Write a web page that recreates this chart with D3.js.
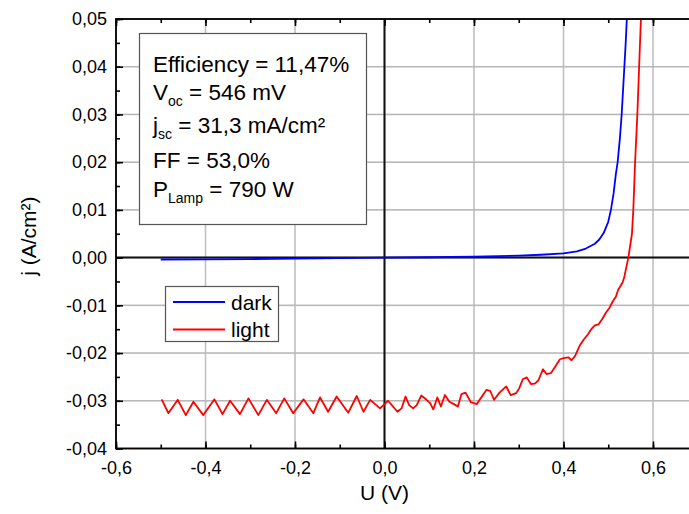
<!DOCTYPE html>
<html>
<head>
<meta charset="utf-8">
<script src="https://cdnjs.cloudflare.com/ajax/libs/d3/7.8.5/d3.min.js"></script>
<style>
body { margin: 0; background: white; }
svg { display: block; font-family: "Liberation Sans", Arial, sans-serif; }
</style>
</head>
<body>
<svg></svg>
<script>
/**********************
* data *
**********************/

/* dark curve (blue) */
var dark_u = [-0.5, -0.4, -0.3, -0.2, -0.1, 0, 0.1, 0.2, 0.3, 0.35, 0.4, 0.43, 0.45, 0.47, 0.48, 0.49, 0.5, 0.506, 0.512, 0.517, 0.521, 0.526, 0.53, 0.533, 0.536, 0.539, 0.5415, 0.544]
var dark_j = [-0.0004, -0.00035, -0.0003, -0.0002, -0.0001, 0, 0.00008, 0.0002, 0.0004, 0.0006, 0.0009, 0.0013, 0.0019, 0.0029, 0.0038, 0.0052, 0.0075, 0.01, 0.0135, 0.0175, 0.02, 0.025, 0.03, 0.035, 0.04, 0.045, 0.05, 0.055]

/* light curve (red) */
var light_u = [-0.498, -0.483, -0.462, -0.444, -0.427, -0.405, -0.38, -0.362, -0.345, -0.323, -0.304, -0.282, -0.263, -0.242, -0.224, -0.204, -0.181, -0.159, -0.144, -0.126, -0.107, -0.081, -0.062, -0.047, -0.032, -0.01,
    0.008, 0.029, 0.038, 0.047, 0.055, 0.064, 0.072, 0.082, 0.094, 0.102, 0.109, 0.118, 0.126, 0.135, 0.145, 0.155, 0.164, 0.172, 0.181, 0.193, 0.206, 0.228, 0.236, 0.245, 0.257, 0.272, 0.282, 0.294, 0.301, 0.309, 0.318, 0.327, 0.336, 0.344, 0.354, 0.362, 0.372, 0.381, 0.392, 0.403, 0.411, 0.418, 0.426, 0.437,
    0.445, 0.455, 0.462, 0.47, 0.478, 0.487, 0.495, 0.503, 0.51, 0.517, 0.522, 0.527, 0.532, 0.536, 0.54, 0.545, 0.549, 0.553, 0.556, 0.56, 0.565, 0.569, 0.573, 0.575]
var light_j = [-0.0297, -0.0326, -0.0298, -0.033, -0.0302, -0.033, -0.0297, -0.0328, -0.03, -0.0328, -0.0295, -0.033, -0.0298, -0.0326, -0.0295, -0.0326, -0.0297, -0.0326, -0.0293, -0.0323, -0.0291, -0.0325, -0.029, -0.0323, -0.0298, -0.0316,
    -0.03, -0.0323, -0.0316, -0.0291, -0.0309, -0.0316, -0.0309, -0.0289, -0.0298, -0.0305, -0.0318, -0.0293, -0.0312, -0.0288, -0.0302, -0.0307, -0.0312, -0.0286, -0.0283, -0.0303, -0.0307, -0.0277, -0.0279, -0.0298, -0.0283, -0.027, -0.0288, -0.0284, -0.0274, -0.0255, -0.0251, -0.0265, -0.0264, -0.0257, -0.0234, -0.0244, -0.0242, -0.0229, -0.0213, -0.021, -0.0209, -0.0215, -0.0206, -0.0183,
    -0.0172, -0.016, -0.015, -0.0142, -0.014, -0.0128, -0.0115, -0.0105, -0.0092, -0.0082, -0.0068, -0.006, -0.0052, -0.004, -0.0022, 0, 0.0025, 0.005, 0.01, 0.02, 0.03, 0.04, 0.05, 0.056]

var series_names = ["dark", "light"]
var series_colors = ["#0000ff", "#ff0000"]

var x_ticks = [-0.6, -0.4, -0.2, 0, 0.2, 0.4, 0.6]
var y_ticks = [-0.04, -0.03, -0.02, -0.01, 0, 0.01, 0.02, 0.03, 0.04, 0.05]

var info_lines = [
    {main: "Efficiency = 11,47%", sub: "", rest: ""},
    {main: "V", sub: "oc", rest: " = 546 mV"},
    {main: "j", sub: "sc", rest: " = 31,3 mA/cm²"},
    {main: "FF = 53,0%", sub: "", rest: ""},
    {main: "P", sub: "Lamp", rest: " = 790 W"}
]

/**********************
* layout *
**********************/

var width = 689
var height = 514

var plot_left = 116
var plot_right = 697.75
var plot_top = 19
var plot_bottom = 448.5

var x = d3.scaleLinear().domain([-0.6, 0.7]).range([plot_left, plot_right])
var y = d3.scaleLinear().domain([-0.04, 0.05]).range([plot_bottom, plot_top])

var x_fmt = function(d) { return d3.format(".1f")(d).replace(".", ",").replace("−", "-") }
var y_fmt = function(d) { return d3.format(".2f")(d).replace(".", ",").replace("−", "-") }

var svg = d3.select("svg").attr("width", width).attr("height", height)

/* minor tick positions */
function minor(step, lo, hi) {
    var out = []
    for (var k = Math.round(lo / step); k * step <= hi + 1e-9; k++) out.push(+(k * step).toFixed(4))
    return out
}

/**********************
* display *
**********************/

/* grey grid lines at the major ticks (thin filled rects) */
function display_grid() {
    var grid = svg.append("g").attr("class", "grid")
    grid.selectAll("rect.vx")
        .data(x_ticks)
        .enter().append("rect")
        .attr("class", "vx")
        .attr("x", function(d) { return x(d) - 0.8 })
        .attr("width", 1.6)
        .attr("y", plot_top).attr("height", plot_bottom - plot_top)
        .attr("fill", "#c0c0c0")
    grid.selectAll("rect.hy")
        .data(y_ticks)
        .enter().append("rect")
        .attr("class", "hy")
        .attr("y", function(d) { return y(d) - 0.8 })
        .attr("height", 1.6)
        .attr("x", plot_left).attr("width", plot_right - plot_left)
        .attr("fill", "#b8b8b8")

    /* zero lines */
    grid.append("line")
        .attr("x1", x(0)).attr("x2", x(0))
        .attr("y1", plot_top).attr("y2", plot_bottom)
        .attr("stroke", "#111").attr("stroke-width", 2)
    grid.append("line")
        .attr("y1", y(0)).attr("y2", y(0))
        .attr("x1", plot_left).attr("x2", plot_right)
        .attr("stroke", "#111").attr("stroke-width", 2)
}

function display_axes() {
    var style = function(g) {
        g.select(".domain").remove()
        g.selectAll("line").attr("stroke", "#000").attr("stroke-width", 1.6)
    }
    var xminor = minor(0.1, -0.6, 0.7)
    var yminor = minor(0.005, -0.04, 0.05)

    /* bottom */
    svg.append("g").attr("transform", "translate(0," + plot_bottom + ")")
        .call(d3.axisBottom(x).tickValues(xminor).tickSize(-4).tickFormat(""))
        .call(style)
    svg.append("g").attr("transform", "translate(0," + plot_bottom + ")")
        .call(d3.axisBottom(x).tickValues(x_ticks).tickSize(-7).tickPadding(13).tickFormat(x_fmt))
        .call(style)
        .selectAll("text").attr("font-size", 18).attr("fill", "#000")
    /* top */
    svg.append("g").attr("transform", "translate(0," + plot_top + ")")
        .call(d3.axisTop(x).tickValues(xminor).tickSize(-4).tickFormat(""))
        .call(style)
    svg.append("g").attr("transform", "translate(0," + plot_top + ")")
        .call(d3.axisTop(x).tickValues(x_ticks).tickSize(-7).tickFormat(""))
        .call(style)
    /* left */
    svg.append("g").attr("transform", "translate(" + plot_left + ",0)")
        .call(d3.axisLeft(y).tickValues(yminor).tickSize(-4).tickFormat(""))
        .call(style)
    svg.append("g").attr("transform", "translate(" + plot_left + ",0)")
        .call(d3.axisLeft(y).tickValues(y_ticks).tickSize(-7).tickPadding(9).tickFormat(y_fmt))
        .call(style)
        .selectAll("text").attr("font-size", 18).attr("fill", "#000")
    /* right */
    svg.append("g").attr("transform", "translate(" + plot_right + ",0)")
        .call(d3.axisRight(y).tickValues(yminor).tickSize(-4).tickFormat(""))
        .call(style)
    svg.append("g").attr("transform", "translate(" + plot_right + ",0)")
        .call(d3.axisRight(y).tickValues(y_ticks).tickSize(-7).tickFormat(""))
        .call(style)

    /* frame */
    svg.append("rect")
        .attr("x", plot_left).attr("y", plot_top)
        .attr("width", plot_right - plot_left).attr("height", plot_bottom - plot_top)
        .attr("fill", "none").attr("stroke", "#000").attr("stroke-width", 1.8)

    /* titles */
    svg.append("text")
        .attr("x", x(0)).attr("y", 500)
        .attr("text-anchor", "middle").attr("font-size", 21)
        .text("U (V)")
    svg.append("text")
        .attr("transform", "translate(36," + y(0.0045) + ") rotate(-90)")
        .attr("text-anchor", "middle").attr("font-size", 21)
        .text("j (A/cm²)")
}

function display_curves() {
    svg.append("clipPath").attr("id", "clip")
        .append("rect")
        .attr("x", plot_left).attr("y", plot_top)
        .attr("width", plot_right - plot_left).attr("height", plot_bottom - plot_top)

    var line = d3.line()
        .x(function(d) { return x(d[0]) })
        .y(function(d) { return y(d[1]) })

    var curves = [d3.zip(dark_u, dark_j), d3.zip(light_u, light_j)]
    svg.append("g").attr("clip-path", "url(#clip)")
        .selectAll("path")
        .data(curves)
        .enter().append("path")
        .attr("d", line)
        .attr("fill", "none")
        .attr("stroke", function(d, i) { return series_colors[i] })
        .attr("stroke-width", 1.8)
        .attr("stroke-linejoin", "round")
}

function display_info() {
    var g = svg.append("g").attr("class", "info")
    g.append("rect")
        .attr("x", 139.5).attr("y", 33.5).attr("width", 227).attr("height", 191)
        .attr("fill", "#fff").attr("stroke", "#555").attr("stroke-width", 1.2)
    var baselines = [72, 100, 133, 168, 197]
    info_lines.forEach(function(l, i) {
        var t = g.append("text")
            .attr("x", 153).attr("y", baselines[i])
            .attr("font-size", 22.5)
        t.append("tspan").text(l.main)
        if (l.sub) {
            t.append("tspan").attr("font-size", 14).attr("dy", 6).text(l.sub)
            t.append("tspan").attr("dy", -6).text(l.rest)
        }
    })
}

function display_legend() {
    var g = svg.append("g").attr("class", "legend")
    g.append("rect")
        .attr("x", 165.5).attr("y", 286.5).attr("width", 113).attr("height", 55)
        .attr("fill", "#fff").attr("stroke", "#555").attr("stroke-width", 1.2)
    var rows = g.selectAll("g.row")
        .data(series_names)
        .enter().append("g")
        .attr("transform", function(d, i) { return "translate(0," + (302 + i * 27.5) + ")" })
    rows.append("line")
        .attr("x1", 173).attr("x2", 225)
        .attr("stroke", function(d, i) { return series_colors[i] })
        .attr("stroke-width", 1.8)
    rows.append("text")
        .attr("x", 231).attr("y", 7.5)
        .attr("font-size", 21)
        .text(function(d) { return d })
}

function main() {
    display_grid()
    display_curves()
    display_axes()
    display_info()
    display_legend()
}

main()
</script>
</body>
</html>
